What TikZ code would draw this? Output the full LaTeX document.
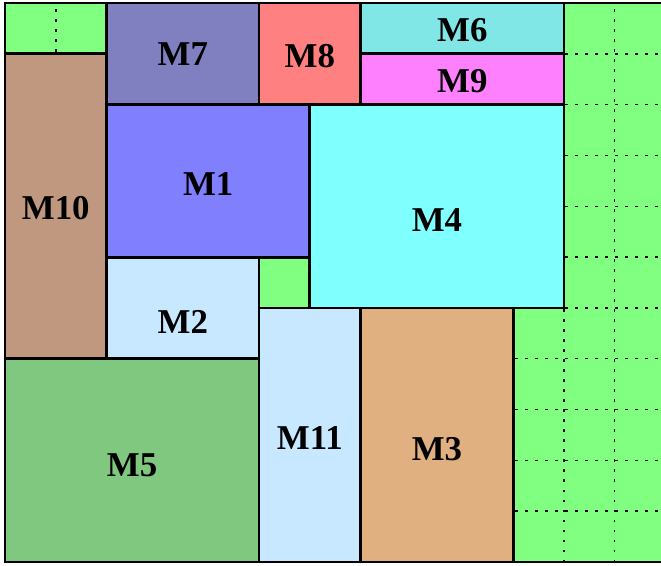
\documentclass[tikz,border=0pt]{standalone}
\usepackage{fontspec}
\setmainfont{Liberation Serif}
\usetikzlibrary{positioning}
\definecolor{bggreen}{RGB}{128,255,128}
\definecolor{cmseven}{RGB}{128,128,192}
\definecolor{cmeight}{RGB}{255,128,128}
\definecolor{cmsix}{RGB}{128,230,230}
\definecolor{cmnine}{RGB}{255,128,255}
\definecolor{cmten}{RGB}{192,152,128}
\definecolor{cmone}{RGB}{128,128,255}
\definecolor{cmfour}{RGB}{128,255,255}
\definecolor{cmtwo}{RGB}{200,232,255}
\definecolor{cmfive}{RGB}{128,200,128}
\definecolor{cmthree}{RGB}{224,176,128}
\tikzset{gridline/.style = {line width=0.8pt, dash pattern=on 1.4pt off 4.2pt}}
\tikzset{blk/.style = {draw, line width=1.6pt, inner sep=0, outer sep=0}}
\tikzset{lbl/.style = {inner sep=0, font=\fontsize{19.5}{20}\selectfont\bfseries}}

\begin{document}
\begin{tikzpicture}
    \useasboundingbox (-0.098,-0.06) rectangle (12.91,11.06);
    \fill[bggreen] (0,0) rectangle (13,11);
    \draw[gridline] (0,0) grid (13,11);

    % modules
    \node[blk, fill=cmseven, minimum width=3cm, minimum height=2cm] (m7) at (3.5,10) {};
    \node[blk, fill=cmeight, minimum width=2cm, minimum height=2cm] (m8) at (6,10) {};
    \node[blk, fill=cmsix, minimum width=4cm, minimum height=1cm] (m6) at (9,10.5) {};
    \node[blk, fill=cmnine, minimum width=4cm, minimum height=1cm] (m9) at (9,9.5) {};
    \node[blk, fill=cmten, minimum width=2cm, minimum height=6cm] (m10) at (1,7) {};
    \node[blk, fill=cmone, minimum width=4cm, minimum height=3cm] (m1) at (4,7.5) {};
    \node[blk, fill=cmfour, minimum width=5cm, minimum height=4cm] (m4) at (8.5,7) {};
    \node[blk, fill=cmtwo, minimum width=3cm, minimum height=2cm] (m2) at (3.5,5) {};
    \node[blk, fill=cmfive, minimum width=5cm, minimum height=4cm] (m5) at (2.5,2) {};
    \node[blk, fill=cmtwo, minimum width=2cm, minimum height=5cm] (m11) at (6,2.5) {};
    \node[blk, fill=cmthree, minimum width=3cm, minimum height=5cm] (m3) at (8.5,2.5) {};

    % names
    \node[lbl] (t7) at (m7.center) {M7};
    \node[lbl] (t8) at ([yshift=-0.05cm]m8.center) {M8};
    \node[lbl] (t6) at ([yshift=-0.03cm]m6.center) {M6};
    \node[lbl] (t9) at ([yshift=-0.03cm]m9.center) {M9};
    \node[lbl] (t10) at ([yshift=-0.04cm]m10.center) {M10};
    \node[lbl] (t1) at ([yshift=-0.06cm]m1.center) {M1};
    \node[lbl] (t4) at ([yshift=-0.28cm]m4.center) {M4};
    \node[lbl] (t2) at ([yshift=-0.28cm]m2.center) {M2};
    \node[lbl] (t5) at ([yshift=-0.1cm]m5.center) {M5};
    \node[lbl] (t11) at ([yshift=-0.06cm]m11.center) {M11};
    \node[lbl] (t3) at ([yshift=-0.28cm]m3.center) {M3};

    \draw[line width=1.6pt] (13.5,0) -- (0,0) -- (0,11) -- (13.5,11); % outline
  \end{tikzpicture}
\end{document}
